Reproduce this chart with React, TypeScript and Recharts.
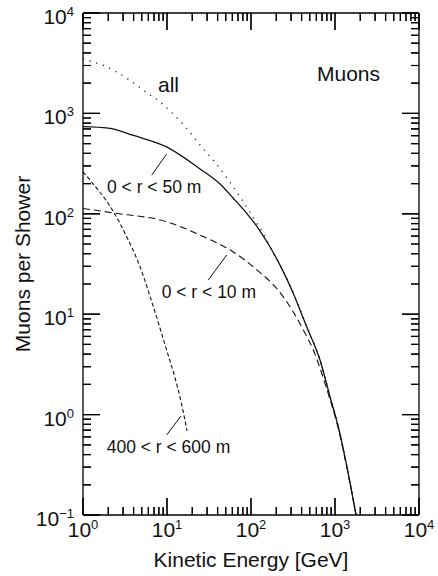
import React from "react";
import { ComposedChart, Line, XAxis, YAxis, ReferenceLine } from "recharts";

const FONT = '"Liberation Sans", Arial, Helvetica, sans-serif';
const INK = "#111";
const FRAME = "#000";

// plot box edges in px (for the mirrored ticks drawn by the axis tick renderers)
const PLOT_TOP = 13;
const PLOT_RIGHT = 419;

// all muons (dotted)
const allEnergy = [1, 1.21, 1.83, 3.63, 5.94, 8.26, 11.4, 17.2, 24.7, 37.3, 53.7, 76, 106, 147, 176, 211, 260, 319, 460, 663, 871, 1094, 1400, 1780];
const allMuons = [3500, 3330, 2960, 2130, 1580, 1300, 1016, 709, 484, 326, 217, 143, 92, 59, 43.6, 33, 23.5, 16.2, 7.55, 3.52, 1.52, 0.76, 0.29, 0.1];

// 0 < r < 50 m (solid)
const r50Energy = [1, 2, 4, 10, 24.7, 42.8, 61.5, 88.9, 122, 168, 232, 319, 460, 663, 871, 1094, 1400, 1780];
const r50Muons = [740, 715, 603, 462, 280, 198, 143, 101, 71.7, 47, 28.6, 16.1, 7.5, 3.5, 1.51, 0.757, 0.29, 0.1];

// 0 < r < 10 m (long dashes)
const r10Energy = [1, 2.3, 9.9, 24.7, 61.5, 112, 221, 319, 420, 552, 695, 871, 1094, 1400, 1780];
const r10Muons = [113, 102, 83.4, 61.5, 41.7, 28.6, 16.5, 10.5, 6.96, 4.4, 2.58, 1.42, 0.73, 0.285, 0.1];

// 400 < r < 600 m (short dashes)
const r500Energy = [1, 1.21, 2.3, 3.31, 4.77, 6.87, 9.9, 12.45, 14.9, 17.3];
const r500Muons = [262, 217, 105, 59.2, 29.7, 11.9, 4.4, 2.32, 1.28, 0.69];

const xTicks = [
  1, 2, 3, 4, 5, 6, 7, 8, 9,
  10, 20, 30, 40, 50, 60, 70, 80, 90,
  100, 200, 300, 400, 500, 600, 700, 800, 900,
  1000, 2000, 3000, 4000, 5000, 6000, 7000, 8000, 9000,
  10000,
];
const yTicks = [
  0.1, 0.2, 0.3, 0.4, 0.5, 0.6, 0.7, 0.8, 0.9,
  1, 2, 3, 4, 5, 6, 7, 8, 9,
  10, 20, 30, 40, 50, 60, 70, 80, 90,
  100, 200, 300, 400, 500, 600, 700, 800, 900,
  1000, 2000, 3000, 4000, 5000, 6000, 7000, 8000, 9000,
  10000,
];

const X_MIN = 1, X_MAX = 10000, Y_MIN = 0.1, Y_MAX = 10000;

// inward tick lengths as factors along the log axes (17px major / 8px minor)
const X_TICK_MAJOR = 1.476, X_TICK_MINOR = 1.201; // measured along y
const Y_TICK_MAJOR = 1.594, Y_TICK_MINOR = 1.245; // measured along x

const toRows = (es: number[], ns: number[]) => es.map((e, i) => ({ e, n: ns[i] }));
const allData = toRows(allEnergy, allMuons);
const r50Data = toRows(r50Energy, r50Muons);
const r10Data = toRows(r10Energy, r10Muons);
const r500Data = toRows(r500Energy, r500Muons);

const isMajor = (v: number) => {
  const l = Math.log10(v);
  return Math.abs(l - Math.round(l)) < 1e-6;
};
const expText = (v: number) => {
  const e = Math.round(Math.log10(v));
  return e < 0 ? "\u2212" + Math.abs(e) : String(e);
};

function XTick(props: any) {
  const { x, y, payload } = props;
  const major = isMajor(payload.value);
  const len = major ? 17 : 8;
  return (
    <g>
      <path d={`M${x},${y}V${y - len}M${x},${PLOT_TOP}V${PLOT_TOP + len}`} stroke={FRAME} strokeWidth={1.2} fill="none" />
      {major ? (
        <text x={x} y={y + 22} textAnchor="middle" fontFamily={FONT} fontSize={21} fill={INK}>
          <tspan>10</tspan>
          <tspan dy={-8} fontSize={13}>{expText(payload.value)}</tspan>
        </text>
      ) : null}
    </g>
  );
}

function YTick(props: any) {
  const { x, y, payload } = props;
  const major = isMajor(payload.value);
  const len = major ? 17 : 8;
  return (
    <g>
      <path d={`M${x},${y}H${x + len}M${PLOT_RIGHT},${y}H${PLOT_RIGHT - len}`} stroke={FRAME} strokeWidth={1.2} fill="none" />
      {major ? (
        <text x={x - 9} y={y + 11} textAnchor="end" fontFamily={FONT} fontSize={21} fill={INK}>
          <tspan>10</tspan>
          <tspan dy={-8} fontSize={13}>{expText(payload.value)}</tspan>
        </text>
      ) : null}
    </g>
  );
}

const tickProps = { stroke: FRAME, strokeWidth: 1.2, ifOverflow: "visible" as const };

export default function App() {
  // tick marks as reference segments, passed as plain children (no nested arrays)
  const tickSegments: React.ReactElement[] = [];
  xTicks.forEach((v) => {
    const f = isMajor(v) ? X_TICK_MAJOR : X_TICK_MINOR;
    tickSegments.push(React.createElement(ReferenceLine, { segment: [{ x: v, y: Y_MIN }, { x: v, y: Y_MIN * f }], ...tickProps }));
    tickSegments.push(React.createElement(ReferenceLine, { segment: [{ x: v, y: Y_MAX }, { x: v, y: Y_MAX / f }], ...tickProps }));
  });
  yTicks.forEach((v) => {
    const f = isMajor(v) ? Y_TICK_MAJOR : Y_TICK_MINOR;
    tickSegments.push(React.createElement(ReferenceLine, { segment: [{ x: X_MIN, y: v }, { x: X_MIN * f, y: v }], ...tickProps }));
    tickSegments.push(React.createElement(ReferenceLine, { segment: [{ x: X_MAX, y: v }, { x: X_MAX / f, y: v }], ...tickProps }));
  });

  const children = [
    <XAxis
      dataKey="e"
      type="number"
      scale="log"
      domain={[X_MIN, X_MAX]}
      allowDataOverflow
      ticks={xTicks}
      interval={0}
      height={61}
      tickSize={0}
      tickMargin={0}
      tickLine={false}
      axisLine={{ stroke: FRAME, strokeWidth: 1.3 }}
      tick={<XTick />}
    />,
    <YAxis
      dataKey="n"
      type="number"
      scale="log"
      domain={[Y_MIN, Y_MAX]}
      allowDataOverflow
      ticks={yTicks}
      interval={0}
      width={83}
      tickSize={0}
      tickMargin={0}
      tickLine={false}
      axisLine={{ stroke: FRAME, strokeWidth: 1.3 }}
      tick={<YTick />}
    />,
    <ReferenceLine y={Y_MAX} stroke={FRAME} strokeWidth={1.3} ifOverflow="visible" />,
    <ReferenceLine x={X_MAX} stroke={FRAME} strokeWidth={1.3} ifOverflow="visible" />,

    <Line data={r500Data} dataKey="n" type="monotone" dot={false} stroke={INK} strokeWidth={1.1} strokeDasharray="4 2.5" isAnimationActive={false} />,
    <Line data={r10Data} dataKey="n" type="monotone" dot={false} stroke={INK} strokeWidth={1.1} strokeDasharray="7 4" isAnimationActive={false} />,
    <Line data={r50Data} dataKey="n" type="monotone" dot={false} stroke={INK} strokeWidth={1.3} isAnimationActive={false} />,
    <Line data={allData} dataKey="n" type="monotone" dot={false} stroke={INK} strokeWidth={1.5} strokeDasharray="1 6" isAnimationActive={false} />,

    // leader lines from the labels to their curves
    <ReferenceLine segment={[{ x: 6.58, y: 243 }, { x: 9.9, y: 394 }]} stroke={INK} strokeWidth={1} ifOverflow="visible" />,
    <ReferenceLine segment={[{ x: 31, y: 21.9 }, { x: 51.4, y: 38.9 }]} stroke={INK} strokeWidth={1} ifOverflow="visible" />,
    <ReferenceLine segment={[{ x: 9.9, y: 0.627 }, { x: 14.7, y: 0.968 }]} stroke={INK} strokeWidth={1} ifOverflow="visible" />,

    <text x={158} y={91.7} fontFamily={FONT} fontSize={21} fill={INK}>all</text>,
    <text x={317} y={80.7} fontFamily={FONT} fontSize={21} fill={INK}>Muons</text>,
    <text x={107} y={193.3} fontFamily={FONT} fontSize={17.5} fill={INK}>0 &lt; r &lt; 50 m</text>,
    <text x={161.7} y={298.3} fontFamily={FONT} fontSize={17.5} fill={INK}>0 &lt; r &lt; 10 m</text>,
    <text x={106.7} y={453.3} fontFamily={FONT} fontSize={17.5} fill={INK}>400 &lt; r &lt; 600 m</text>,
    <text x={251} y={566.7} textAnchor="middle" fontFamily={FONT} fontSize={21} fill={INK}>Kinetic Energy [GeV]</text>,
    <text transform="rotate(-90)" x={-264} y={30} textAnchor="middle" fontFamily={FONT} fontSize={21} fill={INK}>Muons per Shower</text>,

    ...tickSegments,
  ];

  return (
    <div style={{ position: "absolute", left: 0, top: 0, width: 438, height: 576 }}>
      {React.createElement(
        ComposedChart,
        { width: 438, height: 576, margin: { top: PLOT_TOP, right: 438 - PLOT_RIGHT, bottom: 0, left: 0 } },
        ...children
      )}
    </div>
  );
}
